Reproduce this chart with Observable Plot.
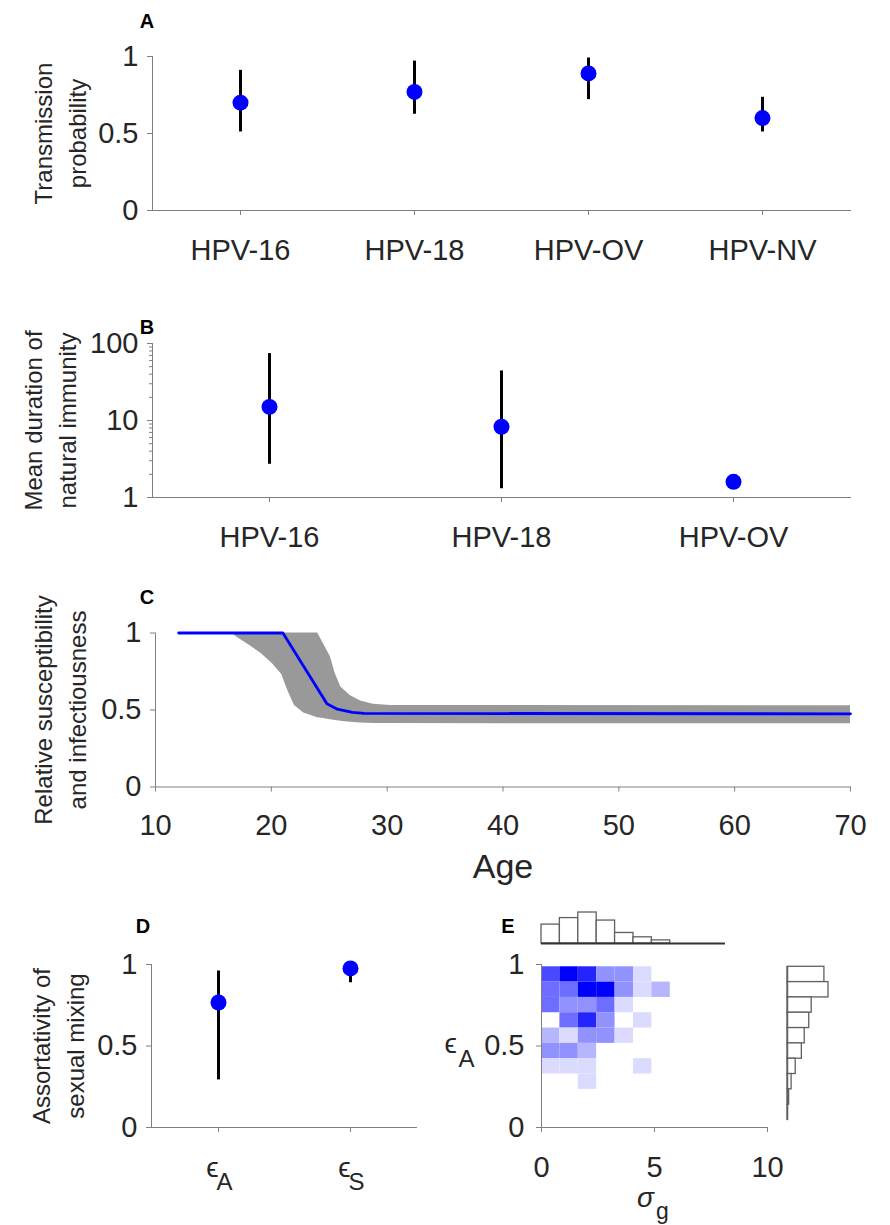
<!DOCTYPE html>
<html>
<head>
<meta charset="utf-8">
<script src="https://cdn.jsdelivr.net/npm/d3@7"></script>
<script src="https://cdn.jsdelivr.net/npm/@observablehq/plot@0.6"></script>
<style>
  body { margin: 0; background: #fff; }
  #fig { position: relative; width: 890px; height: 1225px; font-family: "Liberation Sans", Arial, sans-serif; }
  #fig svg { position: absolute; }
  .tag { position: absolute; font-weight: bold; font-size: 20px; color: #000; transform: translate(-50%, -50%); line-height: 1; }
</style>
</head>
<body>
<div id="fig"></div>
<script>
// A: transmission probability per genotype (posterior median, 95% interval)
const typesA = ["HPV-16", "HPV-18", "HPV-OV", "HPV-NV"];
const transMid = [0.70, 0.77, 0.89, 0.60];
const transLo = [0.51, 0.625, 0.72, 0.51];
const transHi = [0.91, 0.97, 0.99, 0.735];

// B: mean duration of natural immunity (years, log axis)
const typesB = ["HPV-16", "HPV-18", "HPV-OV"];
const immMid = [15, 8.3, 1.6];
const immLo = [2.7, 1.3, 1.5];
const immHi = [74, 44, 1.7];

// C: relative susceptibility / infectiousness by age
const lineAge = [12, 21, 24.8, 25.7, 27, 28, 70];
const lineVal = [1, 1, 0.54, 0.505, 0.485, 0.478, 0.475];
const bandAge = [16.6, 17, 18.2, 19.1, 20.1, 20.9, 21.4, 22, 22.8, 24, 24.5, 25.1, 25.5, 26, 26.8, 27.7, 28.8, 30.3, 70];
const bandLo  = [1, 0.974, 0.915, 0.868, 0.80, 0.73, 0.63, 0.53, 0.48, 0.45, 0.445, 0.437, 0.432, 0.427, 0.42, 0.416, 0.413, 0.412, 0.41];
const bandHi  = [1, 1, 1, 1, 1, 1, 1, 1, 1, 1, 0.93, 0.846, 0.74, 0.65, 0.594, 0.558, 0.538, 0.53, 0.528];

// D: assortativity of sexual mixing
const mixCats = ["ϵA", "ϵS"];
const mixSym = ["ϵ", "ϵ"];
const mixSub = ["A", "S"];
const mixMid = [0.767, 0.976];
const mixLo = [0.292, 0.888];
const mixHi = [0.96, 0.99];

// E: joint posterior of sigma_g and epsilon_A (binned counts) with marginals
const sigmaEdges = [0, 0.814, 1.628, 2.442, 3.256, 4.07, 4.884, 5.698, 6.512, 7.326, 8.14];
const epsEdges = [0.986, 0.892, 0.798, 0.704, 0.61, 0.516, 0.422, 0.328, 0.234, 0.14, 0.046];
const heatCounts = [
  [5, 7, 6, 3, 3, 1, 0],
  [4, 4, 7, 7, 3, 1, 2],
  [4, 3, 3, 4, 1, 0, 0],
  [0, 4, 6, 3, 0, 1, 0],
  [2, 1, 3, 3, 1, 0, 0],
  [3, 3, 2, 0, 0, 0, 0],
  [1, 1, 1, 0, 0, 1, 0],
  [0, 0, 1, 0, 0, 0, 0]
];
const sigmaHist = [61, 82, 100, 74, 34, 20, 10, 0, 0, 0];
const epsHist = [90, 100, 59, 53, 42, 35, 20, 10, 4, 1];

const INK = "#262626";
const AXIS = "#808080";
const STYLE = 'font-family: "Liberation Sans", Arial, sans-serif; font-size: 29px; background: none; overflow: visible; color: #262626;';
const fig = document.getElementById("fig");

function place(svg, left, top) {
  svg.style.left = left + "px";
  svg.style.top = top + "px";
  svg.style.maxWidth = "none";
  fig.append(svg);
}
function tag(letter, x, y) {
  const d = document.createElement("div");
  d.className = "tag";
  d.textContent = letter;
  d.style.left = x + "px";
  d.style.top = y + "px";
  fig.append(d);
}
const xAxisOpts = {tickSize: 5, tickPadding: 24, fontSize: 29, stroke: AXIS, fill: INK, label: null};
const yAxisOpts = {tickSize: 5, tickPadding: 9, fontSize: 29, stroke: AXIS, fill: INK, label: null};
const yTitle = (text, dx) => Plot.text([text], {
  text: d => d, frameAnchor: "left", rotate: -90, dx,
  textAnchor: "middle", lineAnchor: "middle", lineHeight: 1.42, fontSize: 24, fill: INK
});
const spines = () => [
  Plot.frame({anchor: "left", stroke: AXIS}),
  Plot.frame({anchor: "bottom", stroke: AXIS})
];

// ---- A
const rowsA = typesA.map((t, i) => ({t, mid: transMid[i], lo: transLo[i], hi: transHi[i]}));
place(Plot.plot({
  width: 890, height: 290, marginLeft: 152, marginRight: 40, marginTop: 56, marginBottom: 80,
  style: STYLE,
  x: {type: "point", domain: typesA, padding: 0.5},
  y: {domain: [0, 1]},
  marks: [
    ...spines(),
    Plot.axisY({...yAxisOpts, ticks: [0, 0.5, 1], tickFormat: d => String(d)}),
    Plot.axisX({...xAxisOpts}),
    Plot.ruleX(rowsA, {x: "t", y1: "lo", y2: "hi", stroke: "black", strokeWidth: 3}),
    Plot.dot(rowsA, {x: "t", y: "mid", r: 8, fill: "blue"}),
    yTitle("Transmission\nprobability", -94)
  ]
}), 0, 0);

// ---- B
const rowsB = typesB.map((t, i) => ({t, mid: immMid[i], lo: immLo[i], hi: immHi[i]}));
const minorLog = [];
for (const decade of [1, 10]) for (let k = 2; k <= 9; k++) minorLog.push(k * decade);
place(Plot.plot({
  width: 890, height: 290, marginLeft: 152, marginRight: 40, marginTop: 53, marginBottom: 83,
  style: STYLE,
  x: {type: "point", domain: typesB, padding: 0.5},
  y: {type: "log", domain: [1, 100]},
  marks: [
    ...spines(),
    Plot.axisY({...yAxisOpts, ticks: [1, 10, 100], tickFormat: d => String(d)}),
    Plot.axisY({ticks: minorLog, tickSize: 3, tickFormat: () => "", stroke: AXIS, label: null}),
    Plot.axisX({...xAxisOpts}),
    Plot.ruleX(rowsB, {x: "t", y1: "lo", y2: "hi", stroke: "black", strokeWidth: 3}),
    Plot.dot(rowsB, {x: "t", y: "mid", r: 8, fill: "blue"}),
    yTitle("Mean duration of\nnatural immunity", -104)
  ]
}), 0, 290);

// ---- C
const bandRows = bandAge.map((a, i) => ({a, lo: bandLo[i], hi: bandHi[i]}));
const lineRows = lineAge.map((a, i) => ({a, v: lineVal[i]}));
place(Plot.plot({
  width: 890, height: 320, marginLeft: 155, marginRight: 40, marginTop: 52.5, marginBottom: 113.5,
  style: STYLE,
  x: {domain: [10, 70]},
  y: {domain: [0, 1]},
  marks: [
    Plot.areaY(bandRows, {x: "a", y1: "lo", y2: "hi", fill: "#999999"}),
    Plot.line(lineRows, {x: "a", y: "v", stroke: "blue", strokeWidth: 2.8}),
    ...spines(),
    Plot.axisY({...yAxisOpts, ticks: [0, 0.5, 1], tickFormat: d => String(d)}),
    Plot.axisX({...xAxisOpts, ticks: [10, 20, 30, 40, 50, 60, 70], tickPadding: 22}),
    Plot.text(["Age"], {text: d => d, frameAnchor: "bottom", dy: 80, fontSize: 34, lineAnchor: "middle", fill: INK}),
    yTitle("Relative susceptibility\nand infectiousness", -97)
  ]
}), 0, 580);

// ---- D
const rowsD = mixCats.map((c, i) => ({c, sym: mixSym[i], sub: mixSub[i], mid: mixMid[i], lo: mixLo[i], hi: mixHi[i]}));
place(Plot.plot({
  width: 430, height: 325, marginLeft: 151, marginRight: 14, marginTop: 64, marginBottom: 98,
  style: STYLE,
  x: {type: "point", domain: mixCats, padding: 0.5},
  y: {domain: [0, 1]},
  marks: [
    ...spines(),
    Plot.axisY({...yAxisOpts, ticks: [0, 0.5, 1], tickFormat: d => String(d)}),
    Plot.axisX({tickSize: 5, stroke: AXIS, tickFormat: () => "", label: null}),
    Plot.text(rowsD, {x: "c", text: "sym", frameAnchor: "bottom", dx: -6, dy: 41, fontSize: 28, lineAnchor: "middle", fill: INK}),
    Plot.text(rowsD, {x: "c", text: "sub", frameAnchor: "bottom", dx: 6, dy: 55, fontSize: 24, lineAnchor: "middle", fill: INK}),
    Plot.ruleX(rowsD, {x: "c", y1: "lo", y2: "hi", stroke: "black", strokeWidth: 3}),
    Plot.dot(rowsD, {x: "c", y: "mid", r: 8, fill: "blue"}),
    yTitle("Assortativity of\nsexual mixing", -95)
  ]
}), 0, 900);

// ---- E: heat map
const cells = [];
heatCounts.forEach((row, r) => row.forEach((n, c) => {
  if (n > 0) cells.push({x1: sigmaEdges[c], x2: sigmaEdges[c + 1], y1: epsEdges[r + 1], y2: epsEdges[r], n});
}));
place(Plot.plot({
  width: 460, height: 325, marginLeft: 111, marginRight: 123, marginTop: 64, marginBottom: 98,
  style: STYLE,
  x: {domain: [0, 10]},
  y: {domain: [0, 1]},
  color: {type: "linear", domain: [0, 7], range: ["white", "blue"], interpolate: "rgb"},
  marks: [
    Plot.rect(cells, {x1: "x1", x2: "x2", y1: "y1", y2: "y2", fill: "n"}),
    ...spines(),
    Plot.axisY({...yAxisOpts, ticks: [0, 0.5, 1], tickFormat: d => String(d), tickPadding: 12}),
    Plot.axisX({...xAxisOpts, ticks: [0, 5, 10], tickFormat: d => String(d)}),
    Plot.text(["ϵ"], {text: d => d, frameAnchor: "left", dx: -97, dy: -2, fontSize: 28, lineAnchor: "middle", fill: INK}),
    Plot.text(["A"], {text: d => d, frameAnchor: "left", dx: -83, dy: 13, fontSize: 24, lineAnchor: "middle", fill: INK}),
    Plot.text(["σ"], {text: d => d, frameAnchor: "bottom", dx: -9, dy: 71, fontSize: 28, fontStyle: "italic", lineAnchor: "middle", fill: INK}),
    Plot.text(["g"], {text: d => d, frameAnchor: "bottom", dx: 8, dy: 84, fontSize: 23, lineAnchor: "middle", fill: INK})
  ]
}), 430, 900);

// ---- E: marginal of sigma_g (top)
const sigRows = sigmaHist.map((n, i) => ({x1: sigmaEdges[i], x2: sigmaEdges[i + 1], n})).filter(d => d.n > 0);
place(Plot.plot({
  width: 460, height: 50, marginLeft: 111, marginRight: 123, marginTop: 12, marginBottom: 7,
  style: STYLE,
  x: {domain: [0, 10], axis: null},
  y: {domain: [0, 100], axis: null},
  marks: [
    Plot.rect(sigRows, {x1: "x1", x2: "x2", y1: 0, y2: "n", fill: "white", stroke: "#606060", strokeWidth: 1.3}),
    Plot.ruleY([0], {x1: sigmaEdges[0], x2: sigmaEdges[sigmaEdges.length - 1], stroke: "#333", strokeWidth: 2})
  ]
}), 430, 900);

// ---- E: marginal of epsilon_A (right)
const epsRows = epsHist.map((n, i) => ({y1: epsEdges[i + 1], y2: epsEdges[i], n})).filter(d => d.n > 0);
place(Plot.plot({
  width: 80, height: 325, marginLeft: 17, marginRight: 22, marginTop: 64, marginBottom: 98,
  style: STYLE,
  x: {domain: [0, 100], axis: null},
  y: {domain: [0, 1], axis: null},
  marks: [
    Plot.rect(epsRows, {x1: 0, x2: "n", y1: "y1", y2: "y2", fill: "white", stroke: "#606060", strokeWidth: 1.3}),
    Plot.ruleX([0], {y1: epsEdges[epsEdges.length - 1], y2: epsEdges[0], stroke: "#606060", strokeWidth: 1.5})
  ]
}), 770, 900);

tag("A", 147, 21);
tag("B", 147, 327);
tag("C", 147, 597);
tag("D", 143, 926);
tag("E", 508, 926);
</script>
</body>
</html>
